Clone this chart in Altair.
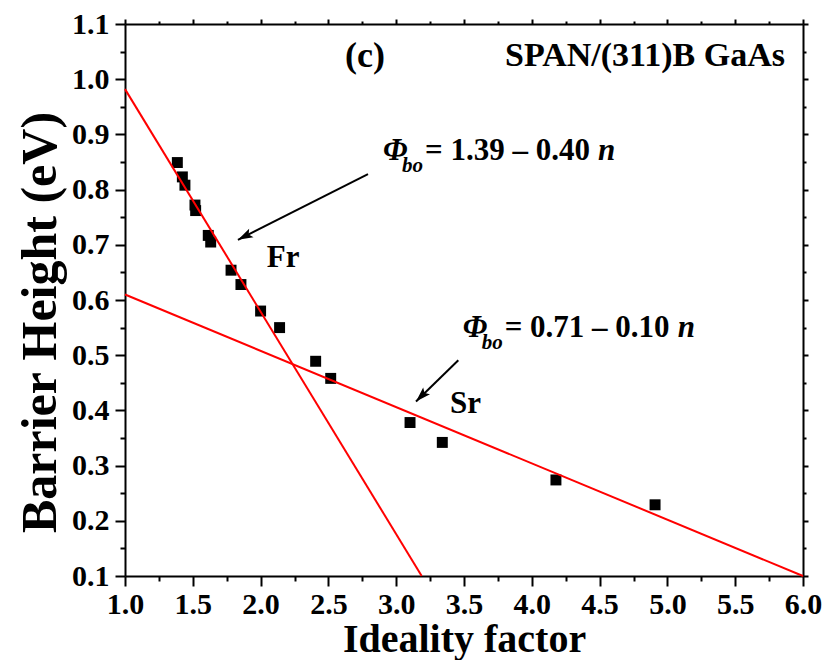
import altair as alt
import pandas as pd

# ---- data ----
n_vals = [1.386, 1.423, 1.442, 1.516, 1.521, 1.614, 1.632, 1.782, 1.855, 2.00,
          2.14, 2.406, 2.517, 3.102, 3.34, 4.178, 4.909]
phi_vals = [0.849, 0.823, 0.808, 0.772, 0.762, 0.717, 0.705, 0.654, 0.628, 0.580,
            0.550, 0.489, 0.458, 0.378, 0.342, 0.274, 0.229]

fr_n = [1.0, 3.188]
fr_phi = [0.982, 0.1]
sr_n = [1.0, 6.0]
sr_phi = [0.61, 0.1]

arrow_id = ["Fr", "Fr", "Sr", "Sr"]
arrow_n = [2.792, 1.833, 3.458, 3.146]
arrow_phi = [0.828, 0.709, 0.491, 0.416]
head_n = [1.833, 3.146]
head_phi = [0.709, 0.416]
head_angle = [243, 225]

x_ticks = [round(1.0 + 0.25 * i, 2) for i in range(21)]
y_ticks = [round(0.1 + 0.05 * i, 2) for i in range(21)]

FONT = "Liberation Serif"
xs = alt.Scale(domain=[1, 6], nice=False, zero=False)
ys = alt.Scale(domain=[0.1, 1.1], nice=False, zero=False)

xmaj = "abs(datum.value*2 - round(datum.value*2)) < 0.001"
ymaj = "abs(datum.value*10 - round(datum.value*10)) < 0.001"

common = dict(grid=False, domainColor="black", domainWidth=2, tickColor="black",
              tickWidth=2, labelFont=FONT, labelFontWeight="bold", labelColor="black",
              titleFont=FONT, titleFontWeight="bold", titleColor="black",
              labelOverlap=False, labelFlush=False)

x_axis = alt.Axis(orient="bottom", values=x_ticks, title="Ideality factor",
                  labelExpr=f"{xmaj} ? format(datum.value, '.1f') : ''",
                  tickSize={"condition": {"test": xmaj, "value": 10}, "value": 5},
                  labelFontSize=30, titleFontSize=40, labelPadding=3, titlePadding=0,
                  **common)
y_axis = alt.Axis(orient="left", values=y_ticks, title="Barrier Height (eV)",
                  labelExpr=f"{ymaj} ? format(datum.value, '.1f') : ''",
                  tickSize={"condition": {"test": ymaj, "value": 10}, "value": 5},
                  labelFontSize=30, titleFontSize=50, labelPadding=6, titlePadding=6,
                  titleY=298,
                  **common)
x_top = alt.Axis(orient="top", values=x_ticks, labels=False, title=None,
                 tickSize={"condition": {"test": xmaj, "value": 5}, "value": 3}, **common)
y_right = alt.Axis(orient="right", values=y_ticks, labels=False, title=None,
                   tickSize={"condition": {"test": ymaj, "value": 5}, "value": 3}, **common)

pts = pd.DataFrame({"n": n_vals, "phi": phi_vals})
fr = pd.DataFrame({"n": fr_n, "phi": fr_phi})
sr = pd.DataFrame({"n": sr_n, "phi": sr_phi})
arr = pd.DataFrame({"id": arrow_id, "n": arrow_n, "phi": arrow_phi})
heads = pd.DataFrame({"n": head_n, "phi": head_phi, "ang": head_angle})

points = alt.Chart(pts).mark_square(size=120, color="black", opacity=1).encode(
    x=alt.X("n:Q", scale=xs, axis=x_axis),
    y=alt.Y("phi:Q", scale=ys, axis=y_axis),
)

fr_line = alt.Chart(fr).mark_line(color="#ff0000", strokeWidth=2).encode(
    x=alt.X("n:Q", scale=xs, axis=x_top),
    y=alt.Y("phi:Q", scale=ys, axis=y_right),
)
sr_line = alt.Chart(sr).mark_line(color="#ff0000", strokeWidth=2).encode(
    x=alt.X("n:Q", scale=xs, axis=None),
    y=alt.Y("phi:Q", scale=ys, axis=None),
)

shafts = alt.Chart(arr).mark_line(color="black", strokeWidth=2).encode(
    x=alt.X("n:Q", scale=xs, axis=None),
    y=alt.Y("phi:Q", scale=ys, axis=None),
    detail="id:N",
)
head_marks = alt.Chart(heads).mark_point(
    shape="M0,0L-0.32,1L0,0.8L0.32,1Z", filled=True, size=900, color="black", opacity=1
).encode(
    x=alt.X("n:Q", scale=xs, axis=None),
    y=alt.Y("phi:Q", scale=ys, axis=None),
    angle=alt.Angle("ang:Q", scale=None),
)


def label(n, phi, txt, size=31, style="normal", dx=0, dy=0, align="left"):
    return alt.Chart(pd.DataFrame({"n": [n], "phi": [phi], "t": [txt]})).mark_text(
        font=FONT, fontWeight="bold", fontStyle=style, fontSize=size, color="black",
        align=align, baseline="alphabetic", dx=dx, dy=dy,
    ).encode(
        x=alt.X("n:Q", scale=xs, axis=None),
        y=alt.Y("phi:Q", scale=ys, axis=None),
        text="t:N",
    )


texts = [
    label(2.622, 1.022, "(c)", size=36),
    label(5.867, 1.024, "SPAN/(311)B GaAs", size=34, align="right"),
    label(2.045, 0.660, "Fr"),
    label(3.397, 0.3947, "Sr"),
    # equation 1
    label(2.903, 0.8536, "Φ", style="italic"),
    label(2.903, 0.8536, "bo", size=21, style="italic", dx=19, dy=12),
    label(2.903, 0.8536, "= 1.39 – 0.40", dx=42),
    label(2.903, 0.8536, "n", style="italic", dx=215),
    # equation 2
    label(3.490, 0.533, "Φ", style="italic"),
    label(3.490, 0.533, "bo", size=21, style="italic", dx=19, dy=12),
    label(3.490, 0.533, "= 0.71 – 0.10", dx=42),
    label(3.490, 0.533, "n", style="italic", dx=215),
]

chart = alt.layer(points, fr_line, sr_line, shafts, head_marks, *texts).resolve_axis(
    x="independent", y="independent"
).properties(
    width=678, height=552,
    autosize=alt.AutoSizeParams(type="none"),
    padding={"left": 117, "top": 16, "right": 19, "bottom": 84},
).configure_view(stroke=None).configure(background="white")

chart.save("out.html", embed_options={"renderer": "svg", "actions": False})
